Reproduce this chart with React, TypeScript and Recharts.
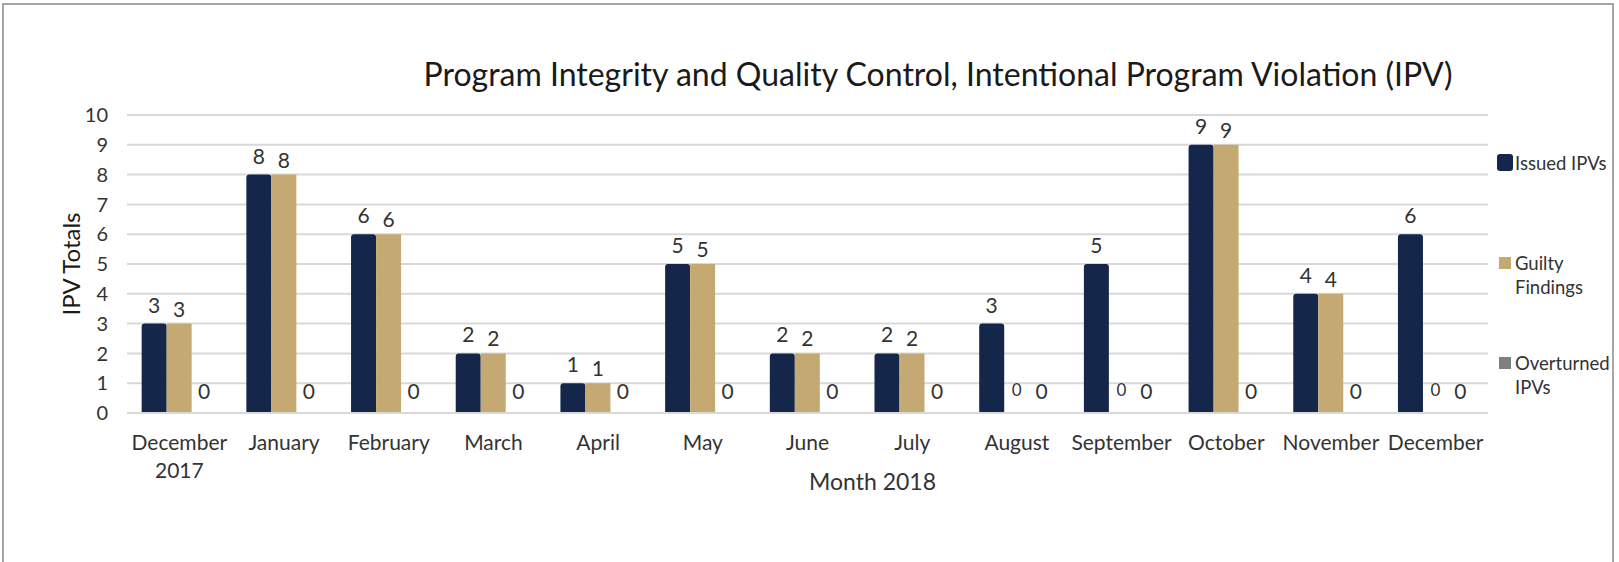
import React from 'react';
import { BarChart, Bar, XAxis, YAxis, CartesianGrid, LabelList } from 'recharts';

const months = [
  'December\n2017',
  'January',
  'February',
  'March',
  'April',
  'May',
  'June',
  'July',
  'August',
  'September',
  'October',
  'November',
  'December',
];
const issuedIPVs = [3, 8, 6, 2, 1, 5, 2, 2, 3, 5, 9, 4, 6];
const guiltyFindings = [3, 8, 6, 2, 1, 5, 2, 2, 0, 0, 9, 4, 0];
const overturnedIPVs = [0, 0, 0, 0, 0, 0, 0, 0, 0, 0, 0, 0, 0];
const yTicks = [0, 1, 2, 3, 4, 5, 6, 7, 8, 9, 10];

const NAVY = '#14274b';
const GOLD = '#c5a972';
const GRAY = '#7f7f7f';
const FONT = 'Lato, "Open Sans", sans-serif';

const data = months.map((m, i) => ({
  month: m,
  issued: issuedIPVs[i],
  guilty: guiltyFindings[i],
  overturned: overturnedIPVs[i],
}));

const legendItems = [
  { label: ['Issued IPVs'], color: NAVY, top: 151, big: true },
  { label: ['Guilty', 'Findings'], color: GOLD, top: 251, big: false },
  { label: ['Overturned', 'IPVs'], color: GRAY, top: 351, big: false },
];

function MonthTick(props: any) {
  const { x, y, payload } = props;
  const lines = String(payload.value).split('\n');
  return (
    <text x={x} y={y} textAnchor="middle" fill="#333" fontSize={21} fontFamily={FONT}>
      {lines.map((l, i) => (
        <tspan key={i} x={x} dy={i === 0 ? 29 : 28}>
          {l}
        </tspan>
      ))}
    </text>
  );
}

// guilty-findings labels: zeros are drawn a bit smaller, like the source
function GuiltyLabel(props: any) {
  const { x, y, width, value } = props;
  const zero = Number(value) === 0;
  return (
    <text
      x={x + width / 2}
      y={y - (zero ? 17 : 7)}
      textAnchor="middle"
      fill="#333"
      fontSize={zero ? 17 : 21}
      fontFamily={FONT}
    >
      {value}
    </text>
  );
}

function ChartLegend() {
  return (
    <div style={{ position: 'absolute', left: 1497, top: 0, fontFamily: FONT, fontSize: 18.5, color: '#333' }}>
      {legendItems.map((it) => (
        <div key={it.color} style={{ position: 'absolute', top: it.top, left: 0, width: 120 }}>
          <span
            style={{
              position: 'absolute',
              left: it.big ? 0 : 2,
              top: it.big ? 3 : 6,
              width: it.big ? 16 : 12,
              height: it.big ? 17 : 12,
              borderRadius: it.big ? 3 : 0,
              background: it.color,
            }}
          />
          <div style={{ marginLeft: 18, lineHeight: '24px', whiteSpace: 'nowrap' }}>
            {it.label.map((l) => (
              <div key={l}>{l}</div>
            ))}
          </div>
        </div>
      ))}
    </div>
  );
}

export default function App() {
  return (
    <div
      style={{
        position: 'absolute',
        left: 0,
        top: 0,
        width: 1619,
        height: 562,
        background: '#fff',
        overflow: 'hidden',
      }}
    >
      <div
        style={{
          position: 'absolute',
          left: 2,
          top: 3,
          width: 1612,
          height: 600,
          border: '2px solid #a6a6a6',
          boxSizing: 'border-box',
        }}
      />
      <div
        style={{
          position: 'absolute',
          left: 938,
          top: 56,
          transform: 'translateX(-50%)',
          whiteSpace: 'nowrap',
          fontFamily: FONT,
          fontSize: 32,
          lineHeight: '36px',
          color: '#1a1a1a',
        }}
      >
        Program Integrity and Quality Control, Intentional Program Violation (IPV)
      </div>
      <BarChart
        width={1619}
        height={562}
        data={data}
        margin={{ top: 115, right: 131, bottom: 119, left: 0 }}
        barCategoryGap="14%"
        barGap={0}
      >
        <CartesianGrid vertical={false} stroke="#d9d9d9" strokeWidth={2} />
        <XAxis
          dataKey="month"
          height={30}
          interval={0}
          tickLine={false}
          axisLine={{ stroke: '#d9d9d9', strokeWidth: 2 }}
          tick={<MonthTick />}
          label={{
            content: ({ viewBox }: any) => (
              <text
                x={viewBox.x + viewBox.width / 2 + 65}
                y={viewBox.y + 77}
                textAnchor="middle"
                fill="#333"
                fontSize={23}
                fontFamily={FONT}
              >
                Month 2018
              </text>
            ),
          }}
        />
        <YAxis
          width={127}
          domain={[0, 10]}
          ticks={yTicks}
          interval={0}
          tickLine={false}
          axisLine={false}
          tickSize={0}
          tickMargin={19}
          tick={{ fill: '#333', fontSize: 20, fontFamily: FONT }}
          label={{
            content: ({ viewBox }: any) => (
              <text
                x={70}
                y={viewBox.y + viewBox.height / 2}
                textAnchor="middle"
                dominantBaseline="central"
                transform={`rotate(-90, 70, ${viewBox.y + viewBox.height / 2})`}
                fill="#1a1a1a"
                fontSize={24}
                fontFamily={FONT}
              >
                IPV Totals
              </text>
            ),
          }}
        />
        <Bar dataKey="issued" name="Issued IPVs" fill={NAVY} radius={[3, 3, 0, 0]} isAnimationActive={false}>
          <LabelList dataKey="issued" position="top" offset={11} fill="#333" fontSize={21} fontFamily={FONT} />
        </Bar>
        <Bar dataKey="guilty" name="Guilty Findings" fill={GOLD} minPointSize={0.01} isAnimationActive={false}>
          <LabelList dataKey="guilty" content={<GuiltyLabel />} />
        </Bar>
        <Bar dataKey="overturned" name="Overturned IPVs" fill={GRAY} minPointSize={0.01} isAnimationActive={false}>
          <LabelList dataKey="overturned" position="top" offset={14} fill="#333" fontSize={21} fontFamily={FONT} />
        </Bar>
      </BarChart>
      <ChartLegend />
    </div>
  );
}
